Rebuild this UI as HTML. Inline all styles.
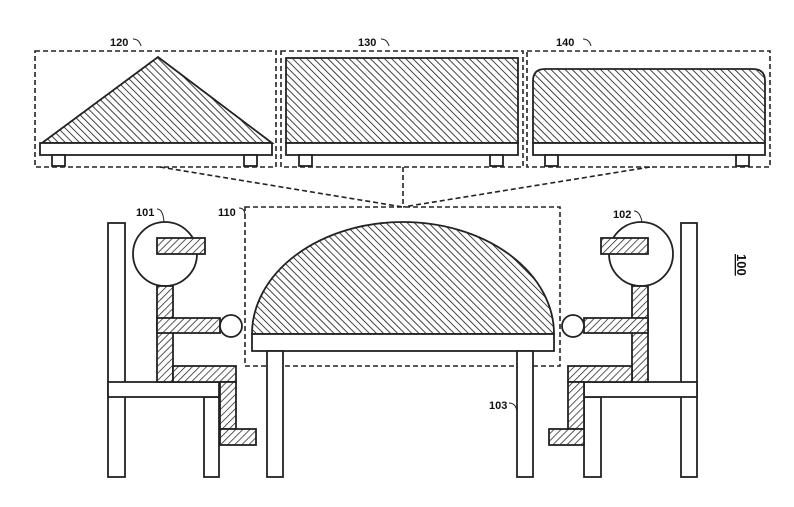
<!DOCTYPE html>
<html><head><style>body{margin:0;background:#fff}svg{display:block}</style></head><body>
<svg width="794" height="507" viewBox="0 0 794 507" xmlns="http://www.w3.org/2000/svg" font-family="Liberation Sans, sans-serif">
<defs>
<pattern id="hb" width="5" height="5" patternUnits="userSpaceOnUse" patternTransform="rotate(-45)"><rect width="5" height="5" fill="#fff"/><line x1="0" y1="0" x2="0" y2="5" stroke="#222" stroke-width="1.7"/></pattern>
<pattern id="hf" width="5" height="5" patternUnits="userSpaceOnUse" patternTransform="rotate(45)"><rect width="5" height="5" fill="#fff"/><line x1="0" y1="0" x2="0" y2="5" stroke="#222" stroke-width="1.5"/></pattern>
</defs>
<g fill="none" stroke="#222" stroke-width="1.6" stroke-dasharray="5,3">
<rect x="35" y="51" width="241" height="116"/>
<rect x="281" y="51" width="242" height="116"/>
<rect x="527" y="51" width="243" height="116"/>
<rect x="245" y="207" width="315" height="159"/>
<line x1="160" y1="167" x2="403" y2="207"/>
<line x1="403" y1="167" x2="403" y2="207"/>
<line x1="650" y1="167" x2="403" y2="207"/>
</g>
<g stroke="#222" stroke-width="1.8">
<polygon points="42,143 158,57 272,143" fill="url(#hb)"/>
<rect x="40" y="143" width="232" height="12" fill="#fff"/>
<rect x="52" y="155" width="13" height="11" fill="#fff"/>
<rect x="244" y="155" width="13" height="11" fill="#fff"/>
<rect x="286" y="58" width="232" height="85" fill="url(#hb)"/>
<rect x="286" y="143" width="232" height="12" fill="#fff"/>
<rect x="299" y="155" width="13" height="11" fill="#fff"/>
<rect x="490" y="155" width="13" height="11" fill="#fff"/>
<path d="M533,143 V81 Q533,69 545,69 H753 Q765,69 765,81 V143 Z" fill="url(#hb)"/>
<rect x="533" y="143" width="232" height="12" fill="#fff"/>
<rect x="545" y="155" width="13" height="11" fill="#fff"/>
<rect x="736" y="155" width="13" height="11" fill="#fff"/>
<path d="M252,334 A151,112 0 0 1 554,334 Z" fill="url(#hb)"/>
<rect x="252" y="334" width="302" height="17" fill="#fff"/>
<rect x="267" y="351" width="16" height="126" fill="#fff"/>
<rect x="517" y="351" width="16" height="126" fill="#fff"/>
<rect x="108" y="223" width="17" height="254" fill="#fff"/>
<rect x="204" y="397" width="15" height="80" fill="#fff"/>
<rect x="108" y="382" width="111" height="15" fill="#fff"/>
<circle cx="165" cy="254" r="32" fill="#fff"/>
<rect x="157" y="238" width="48" height="16" fill="url(#hf)"/>
<rect x="157" y="286" width="16" height="96" fill="url(#hf)"/>
<rect x="157" y="318" width="63" height="15" fill="url(#hf)"/>
<circle cx="231" cy="326" r="11" fill="#fff"/>
<rect x="173" y="366" width="63" height="16" fill="url(#hf)"/>
<rect x="220" y="382" width="16" height="47" fill="url(#hf)"/>
<rect x="220" y="429" width="36" height="16" fill="url(#hf)"/>
<rect x="681" y="223" width="16" height="254" fill="#fff"/>
<rect x="584" y="397" width="17" height="80" fill="#fff"/>
<rect x="584" y="382" width="113" height="15" fill="#fff"/>
<circle cx="641" cy="254" r="32" fill="#fff"/>
<rect x="601" y="238" width="47" height="16" fill="url(#hf)"/>
<rect x="632" y="286" width="16" height="96" fill="url(#hf)"/>
<rect x="584" y="318" width="64" height="15" fill="url(#hf)"/>
<circle cx="573" cy="326" r="11" fill="#fff"/>
<rect x="568" y="366" width="64" height="16" fill="url(#hf)"/>
<rect x="568" y="382" width="16" height="47" fill="url(#hf)"/>
<rect x="549" y="429" width="35" height="16" fill="url(#hf)"/>
</g>
<g fill="none" stroke="#222" stroke-width="1">
<path d="M133,39 Q139,39 141,46"/>
<path d="M381,39 Q387,39 389,46"/>
<path d="M583,39 Q589,39 591,46"/>
<path d="M157,209 Q163,209 164,222"/>
<path d="M239,208 Q245,208 245,216"/>
<path d="M634,211 Q640,211 642,222"/>
<path d="M509,403 Q516,403 517,412"/>
</g>
<g font-size="11" font-weight="bold" fill="#111">
<text x="110" y="46">120</text>
<text x="358" y="46">130</text>
<text x="556" y="46">140</text>
<text x="136" y="216">101</text>
<text x="218" y="216">110</text>
<text x="613" y="218">102</text>
<text x="489" y="409">103</text>
<text transform="translate(737,254) rotate(90)" font-size="13" text-decoration="underline">100</text>
</g>
</svg>
</body></html>
